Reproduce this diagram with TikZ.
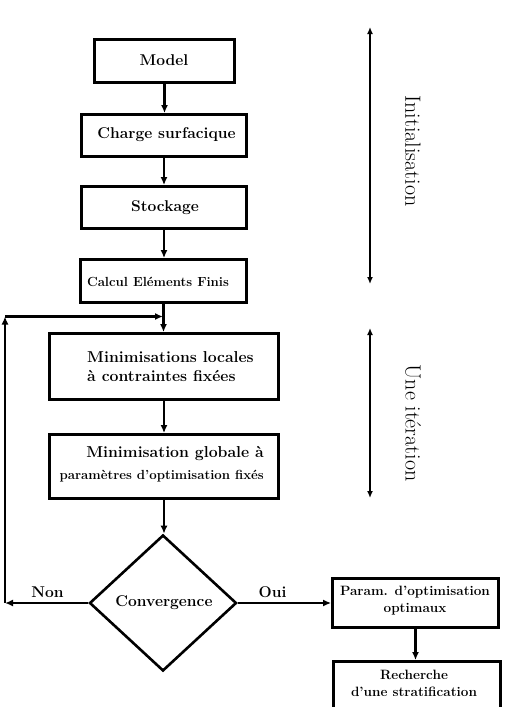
\documentclass[tikz,border=0pt]{standalone}
\usetikzlibrary{shapes.geometric,arrows.meta}
\begin{document}
\begin{tikzpicture}[x=1pt,y=-1pt,
  box/.style={draw, rectangle, line width=2.8pt, inner sep=0pt},
  arr/.style={line width=2.4pt, -{Latex[length=8pt,width=7pt]}},
  dbl/.style={line width=2.2pt, {Latex[length=7pt,width=6pt]}-{Latex[length=7pt,width=6pt]}},
  big/.style={inner sep=0pt, font={\fontsize{15.6}{18}\selectfont\bfseries}},
  mid/.style={inner sep=0pt, font={\fontsize{13.5}{17}\selectfont\bfseries}},
  side/.style={inner sep=0pt, rotate=-90, font={\fontsize{22}{26}\selectfont}}]
\clip (0,0) rectangle (508,707);
\fill[white] (0,0) rectangle (508,707);
% boxes
\node[box, minimum width=140pt, minimum height=43pt] (model) at (164.5,61) {};
\node[box, minimum width=165pt, minimum height=42pt] (charge) at (164,135.5) {};
\node[box, minimum width=165pt, minimum height=42pt] (stock) at (164,207.5) {};
\node[box, minimum width=166pt, minimum height=43pt] (calc) at (163.5,281) {};
\node[box, minimum width=229pt, minimum height=66pt] (minloc) at (164,366.5) {};
\node[box, minimum width=229pt, minimum height=64pt] (minglob) at (164,466.5) {};
\node[diamond, draw, line width=2.6pt, minimum width=147pt, minimum height=136pt, inner sep=0pt] (conv) at (163,603) {};
\node[box, minimum width=166pt, minimum height=49pt] (param) at (415.5,603) {};
\node[box, minimum width=167pt, minimum height=60pt] (rech) at (417,691.5) {};
% texts
\node[big] (modelt) at (164,60) {Model};
\node[big] (charget) at (166.5,135) {Charge surfacique};
\node[big] (stockt) at (165,208) {Stockage};
\node[inner sep=0pt, font={\fontsize{13.2}{16}\selectfont\bfseries}] (calct) at (158,282) {Calcul Eléments Finis};
\node[inner sep=0pt, align=left, anchor=west, font={\fontsize{15.8}{19.5}\selectfont\bfseries}] (minloct) at (87,366.5) {Minimisations locales\\à contraintes fixées};
\node[inner sep=0pt, align=right, anchor=east, font={\fontsize{15.8}{19}\selectfont\bfseries}] (minglobt) at (264,464.5) {Minimisation globale à\\[3pt]{\fontsize{13.2}{16}\selectfont paramètres d'optimisation fixés}};
\node[inner sep=0pt, font={\fontsize{15.6}{18}\selectfont\bfseries}] (convt) at (164,603) {Convergence};
\node[mid, align=center] (paramt) at (415,600.5) {Param. d'optimisation\\optimaux};
\node[mid, align=center] (recht) at (414,683.5) {Recherche\\d'une stratification};
\node[big] (non) at (47.5,592) {Non};
\node[big] (oui) at (272.5,592) {Oui};
% connectors
\draw[arr] (model.south) -- (model.south |- charge.north);
\draw[arr] (charge.south) -- (charge.south |- stock.north);
\draw[arr] (stock.south) -- (stock.south |- calc.north);
\draw[arr] (calc.south) -- (calc.south |- minloc.north);
\draw[arr] (minloc.south) -- (minloc.south |- minglob.north);
\draw[arr] (minglob.south) -- (minglob.south |- conv.north);
\coordinate (nl) at (5,603);
\coordinate (nu) at (5,316.5);
\coordinate (fb) at (163,316.5);
\draw[arr] (conv.west) -- (nl);
\draw[arr] (nl) -- (nu);
\draw[arr] (nu) -- (fb);
\draw[arr] (conv.east) -- (param.west);
\draw[arr] (param.south) -- (param.south |- rech.north);
% side arrows and labels
\coordinate (i1) at (370,27);
\coordinate (i2) at (370,284);
\coordinate (u1) at (370,328);
\coordinate (u2) at (370,498);
\draw[dbl] (i1) -- (i2);
\draw[dbl] (u1) -- (u2);
\node[side] (init) at (413,151) {Initialisation};
\node[side] (iter) at (413,423) {Une itération};
\end{tikzpicture}
\end{document}
